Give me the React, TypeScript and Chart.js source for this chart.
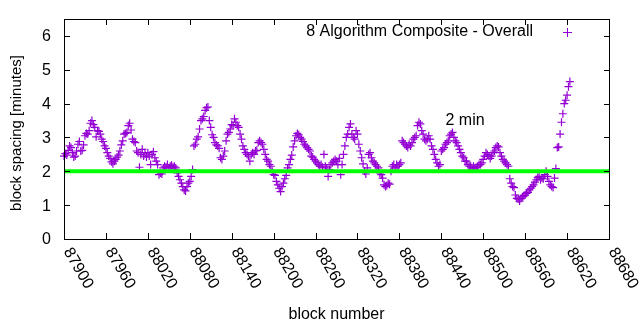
import React, { useEffect, useRef } from "react";
import { Chart, registerables } from "chart.js";

Chart.register(...registerables);

// block numbers: firstBlock + i * blockStep
const firstBlock = 87900;
const blockStep = 2;

// block spacing [minutes], every 2 blocks
const spacing87900 = [
  2.45, 2.52, 2.48, 2.62, 2.75, 2.7, 2.55, 2.42, 2.45, 2.6,
  2.8, 2.88, 2.6, 2.62, 2.78, 3.05, 3.12, 3.1, 3.2, 3.42,
  3.5, 3.38, 3.3, 3.02, 3.2, 3.18, 3.1, 2.95, 2.88, 2.75,
  2.68, 2.55, 2.45, 2.38, 2.28, 2.22, 2.3, 2.35, 2.42, 2.48,
  2.6, 2.78, 2.9, 3.1, 3.12, 3.15, 3.35, 3.42, 3.22, 2.95,
];
const spacing88000 = [
  2.88, 2.85, 2.6, 2.55, 2.12, 2.5, 2.65, 2.45, 2.55, 2.42,
  2.55, 2.45, 2.2, 2.5, 2.58, 2.4, 2.3, 2.2, 1.9, 1.95,
  1.92, 2.1, 2.15, 2.12, 2.2, 2.1, 2.15, 2.18, 2.12, 2.15,
  2.1, 1.95, 1.85, 1.75, 1.65, 1.55, 1.45, 1.42, 1.55, 1.65,
  1.7, 1.85, 2.05, 2.75, 2.8, 2.95, 3.02, 3.25, 3.5, 3.55,
];
const spacing88100 = [
  3.62, 3.8, 3.88, 3.9, 3.5, 3.3, 3.08, 3.0, 2.85, 2.78,
  2.75, 2.68, 2.4, 2.35, 2.45, 2.6, 2.9, 3.1, 3.15, 3.25,
  3.38, 3.35, 3.55, 3.45, 3.35, 3.3, 3.1, 2.95, 2.75, 2.65,
  2.55, 2.5, 2.45, 2.3, 2.5, 2.55, 2.5, 2.6, 2.62, 2.85,
  2.9, 2.85, 2.8, 2.65, 2.5, 2.35, 2.3, 2.2, 2.15, 2.0,
];
const spacing88200 = [
  1.9, 1.88, 1.7, 1.6, 1.5, 1.4, 1.55, 1.65, 1.78, 1.88,
  2.1, 2.2, 2.35, 2.48, 2.72, 2.9, 3.05, 3.12, 3.08, 3.0,
  2.95, 2.88, 2.8, 2.75, 2.7, 2.65, 2.6, 2.45, 2.42, 2.35,
  2.3, 2.25, 2.2, 2.15, 2.2, 2.12, 2.5, 2.15, 2.1, 1.85,
  2.05, 2.2, 2.25, 2.3, 2.35, 2.3, 2.2, 2.38, 1.9, 2.2,
];
const spacing88300 = [
  2.5, 2.75, 3.0, 3.1, 3.3, 3.4, 3.1, 3.0, 2.95, 3.2,
  3.1, 2.8, 2.6, 2.4, 2.22, 2.0, 1.92, 2.1, 2.5, 2.55,
  2.4, 2.3, 2.25, 2.2, 2.15, 2.1, 1.95, 1.9, 1.8, 1.6,
  1.55, 1.58, 1.65, 1.62, 2.0, 2.15, 2.2, 2.1, 2.2, 2.15,
  2.2, 2.25, 2.9, 2.85, 2.8, 2.75, 2.7, 2.8, 2.75, 2.85,
];
const spacing88400 = [
  2.95, 3.0, 3.05, 3.35, 3.45, 3.4, 3.2, 3.1, 2.95, 2.9,
  2.95, 3.05, 2.95, 2.75, 2.65, 2.5, 2.35, 2.25, 2.15, 2.2,
  2.6, 2.65, 2.7, 2.8, 2.85, 2.9, 3.05, 3.1, 3.15, 3.0,
  2.9, 2.85, 2.75, 2.65, 2.55, 2.45, 2.4, 2.3, 2.3, 2.2,
  2.15, 2.15, 2.1, 2.15, 2.1, 2.12, 2.15, 2.2, 2.2, 2.25,
];
const spacing88500 = [
  2.35, 2.45, 2.55, 2.5, 2.45, 2.38, 2.45, 2.55, 2.6, 2.7,
  2.75, 2.72, 2.55, 2.45, 2.35, 2.3, 2.25, 2.2, 2.15, 1.78,
  1.65, 1.55, 1.52, 1.3, 1.2, 1.18, 1.12, 1.2, 1.25, 1.28,
  1.3, 1.35, 1.38, 1.45, 1.5, 1.55, 1.6, 1.68, 1.75, 1.82,
  1.85, 1.75, 1.8, 1.78, 1.9, 2.0, 1.85, 1.7, 1.6, 1.55,
];
const spacing88600 = [
  1.52, 1.8, 2.08, 2.7, 2.72, 3.1, 3.45, 3.7, 4.0, 4.1,
  4.25, 4.5, 4.65,
];

const spacingMinutes = [
  ...spacing87900, ...spacing88000, ...spacing88100, ...spacing88200,
  ...spacing88300, ...spacing88400, ...spacing88500, ...spacing88600,
];

const targetMinutes = 2;
const xMin = 87900;
const xMax = 88680;
const xTicks = [87900, 87960, 88020, 88080, 88140, 88200, 88260, 88320, 88380, 88440, 88500, 88560, 88620, 88680];
const yTicks = [0, 1, 2, 3, 4, 5, 6];
const yMax = 6.5;

const seriesLabel = "8 Algorithm Composite - Overall";
const annotationText = "2 min";
const annotationX = 88446;
const annotationY = 3.5;
const xTitle = "block number";
const yTitle = "block spacing [minutes]";

const PURPLE = "#9400d3";
const FONT = "'Liberation Sans', Arial, sans-serif";

const gnuplotFrame = {
  id: "gnuplotFrame",
  beforeDraw(chart: any) {
    const ctx = chart.ctx;
    ctx.save();
    ctx.fillStyle = "#ffffff";
    ctx.fillRect(0, 0, chart.width, chart.height);
    ctx.restore();
  },
  afterDraw(chart: any) {
    const ctx = chart.ctx;
    const a = chart.chartArea;
    const xs = chart.scales.x;
    const ys = chart.scales.y;
    ctx.save();
    ctx.strokeStyle = "#000000";
    ctx.lineWidth = 1;
    ctx.strokeRect(a.left + 0.5, a.top + 0.5, a.right - a.left, a.bottom - a.top);
    const tl = 6;
    ctx.beginPath();
    yTicks.forEach((v) => {
      const py = Math.round(ys.getPixelForValue(v)) + 0.5;
      ctx.moveTo(a.left, py);
      ctx.lineTo(a.left + tl, py);
      ctx.moveTo(a.right + 1, py);
      ctx.lineTo(a.right + 1 - tl, py);
    });
    xTicks.forEach((v) => {
      const px = Math.round(xs.getPixelForValue(v)) + 0.5;
      ctx.moveTo(px, a.bottom);
      ctx.lineTo(px, a.bottom - tl);
      ctx.moveTo(px, a.top);
      ctx.lineTo(px, a.top + tl);
    });
    ctx.stroke();

    ctx.fillStyle = "#000000";
    ctx.font = `16px ${FONT}`;
    ctx.textAlign = "right";
    ctx.textBaseline = "middle";
    yTicks.forEach((v) => {
      ctx.fillText(String(v), a.left - 13, ys.getPixelForValue(v) + 1);
    });

    xTicks.forEach((v) => {
      const px = xs.getPixelForValue(v);
      ctx.save();
      ctx.translate(px + 3, a.bottom + 10);
      ctx.rotate(Math.PI / 3);
      ctx.textAlign = "left";
      ctx.textBaseline = "middle";
      ctx.fillText(String(v), 0, 0);
      ctx.restore();
    });

    ctx.font = `16px ${FONT}`;
    ctx.textAlign = "center";
    ctx.textBaseline = "middle";
    ctx.fillText(xTitle, (a.left + a.right) / 2, 315);

    ctx.save();
    ctx.translate(17, (a.top + a.bottom) / 2 + 4);
    ctx.rotate(-Math.PI / 2);
    ctx.font = `15px ${FONT}`;
    ctx.fillText(yTitle, 0, 0);
    ctx.restore();

    ctx.textAlign = "right";
    ctx.fillText(seriesLabel, 533, 32);
    ctx.strokeStyle = PURPLE;
    ctx.beginPath();
    ctx.moveTo(563, 32.5);
    ctx.lineTo(572, 32.5);
    ctx.moveTo(567.5, 28);
    ctx.lineTo(567.5, 37);
    ctx.stroke();

    ctx.textAlign = "left";
    ctx.fillStyle = "#000000";
    ctx.fillText(annotationText, xs.getPixelForValue(annotationX), ys.getPixelForValue(annotationY));
    ctx.restore();
  },
};

export default function App() {
  const ref = useRef<HTMLCanvasElement | null>(null);
  useEffect(() => {
    document.body.style.margin = "0";
    const canvas = ref.current;
    if (!canvas) return;
    const points = spacingMinutes.map((v, i) => ({ x: firstBlock + i * blockStep, y: v }));
    const chart = new Chart(canvas, {
      type: "scatter",
      data: {
        datasets: [
          {
            type: "line",
            label: "2 min",
            data: [
              { x: xMin, y: targetMinutes },
              { x: xMax, y: targetMinutes },
            ],
            borderColor: "#00ff00",
            borderWidth: 4,
            pointRadius: 0,
            order: 0,
          } as any,
          {
            label: seriesLabel,
            data: points,
            pointStyle: "cross",
            pointRadius: 4,
            pointBorderWidth: 1.2,
            borderColor: PURPLE,
            backgroundColor: PURPLE,
            showLine: false,
            clip: false,
            order: 1,
          } as any,
        ],
      },
      options: {
        responsive: false,
        animation: false,
        events: [],
        layout: { padding: { left: 64, right: 31, top: 19, bottom: 91 } },
        plugins: { legend: { display: false }, tooltip: { enabled: false } },
        scales: {
          x: { type: "linear", min: xMin, max: xMax, display: false },
          y: { type: "linear", min: 0, max: yMax, display: false },
        },
      },
      plugins: [gnuplotFrame],
    });
    return () => chart.destroy();
  }, []);
  return <canvas ref={ref} width={640} height={330} style={{ display: "block" }} />;
}
